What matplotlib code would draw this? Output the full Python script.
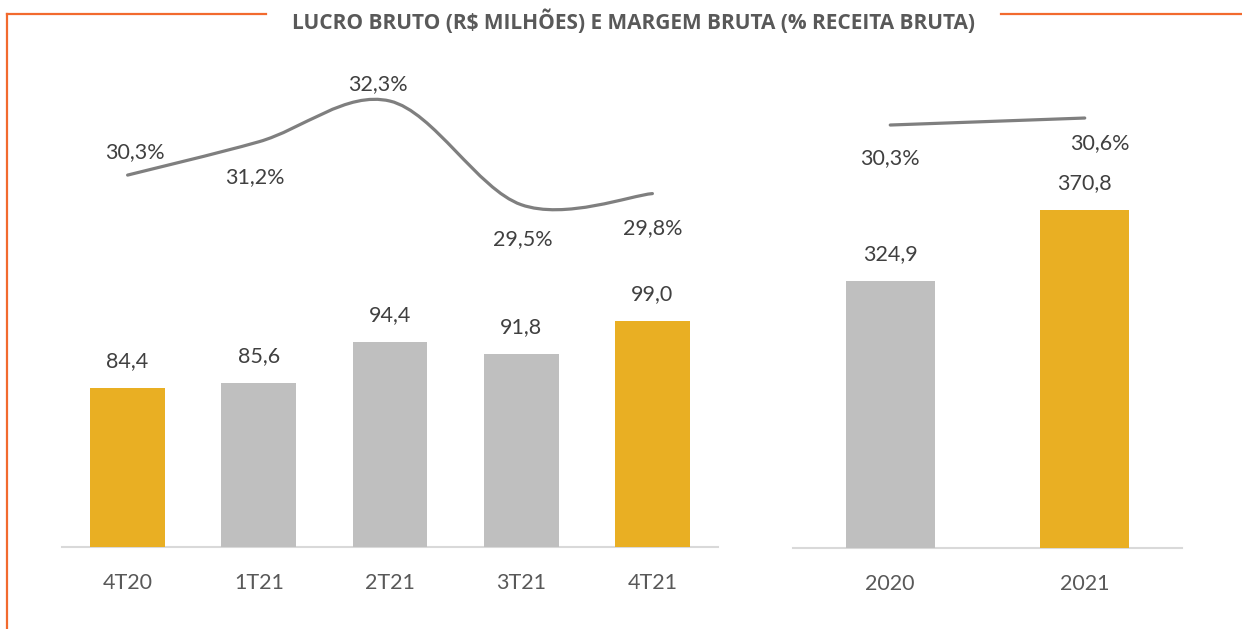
import numpy as np
import matplotlib.pyplot as plt
from matplotlib.path import Path
from matplotlib.patches import PathPatch

# dados
trimestres = ["4T20", "1T21", "2T21", "3T21", "4T21"]
lucro_tri = [84.4, 85.6, 94.4, 91.8, 99.0]
margem_tri = [30.3, 31.2, 32.3, 29.5, 29.8]

anos = ["2020", "2021"]
lucro_ano = [324.9, 370.8]
margem_ano = [30.3, 30.6]

titulo = "LUCRO BRUTO (R$ MILHÕES) E MARGEM BRUTA (% RECEITA BRUTA)"

OURO = "#E9AF23"
CINZA = "#BFBFBF"
LINHA = "#7F7F7F"
LARANJA = "#F26A2E"
TXT = "#404040"
FS = 15.5

plt.rcParams['font.family'] = ['Lato', 'DejaVu Sans']

W, H = 1242, 629
fig = plt.figure(figsize=(W / 100, H / 100), dpi=100)


def px_axes(x0, x1, ytop, ybot):
    return fig.add_axes([x0 / W, 1 - ybot / H, (x1 - x0) / W, (ybot - ytop) / H])


def smooth_line(ax, xs, ys):
    # curva suavizada estilo Excel (Catmull-Rom em coordenadas de tela)
    pts = ax.transData.transform(np.column_stack([xs, ys]))
    verts = [pts[0]]
    codes = [Path.MOVETO]
    n = len(pts)
    for i in range(n - 1):
        p0 = pts[i - 1] if i > 0 else pts[i]
        p1 = pts[i]
        p2 = pts[i + 1]
        p3 = pts[i + 2] if i + 2 < n else pts[i + 1]
        c1 = p1 + (p2 - p0) / 6
        c2 = p2 - (p3 - p1) / 6
        verts += [c1, c2, p2]
        codes += [Path.CURVE4] * 3
    verts = ax.transData.inverted().transform(np.array(verts))
    ax.add_patch(PathPatch(Path(verts, codes), fill=False, edgecolor=LINHA,
                           lw=2.3, capstyle='round', zorder=3))


def base_style(ax):
    for s in ax.spines.values():
        s.set_visible(False)
    ax.set_yticks([])


def fmt(v, pct=False):
    s = f"{v:.1f}".replace(".", ",")
    return s + "%" if pct else s


# painel trimestral
ax1 = px_axes(62, 718, 60, 547)
x1 = np.arange(len(trimestres))
cores1 = [OURO, CINZA, CINZA, CINZA, OURO]
ax1.bar(x1, lucro_tri, width=0.57, color=cores1, zorder=2)
ax1.set_xlim(-0.5, len(trimestres) - 0.5)
ax1.set_ylim(49.8, 155.9)
base_style(ax1)
ax1.axhline(49.8, color="#D9D9D9", lw=1.5, zorder=1, clip_on=False)
ax1.set_xticks(x1)
ax1.set_xticklabels(trimestres, fontsize=FS, color="#595959")
ax1.tick_params(axis='x', length=0, pad=19)
for xi, v in zip(x1, lucro_tri):
    ax1.annotate(fmt(v), (xi, v), xytext=(0, 27), textcoords='offset pixels',
                 ha='center', va='center', fontsize=FS, color=TXT)

ax1b = ax1.twinx()
ax1b.set_ylim(20.25, 33.41)
base_style(ax1b)
smooth_line(ax1b, x1, margem_tri)
offs1 = [(7, 23), (-4, -35), (-12, 17), (2, -34), (0, -35)]
for xi, v, (dx, dy) in zip(x1, margem_tri, offs1):
    ax1b.annotate(fmt(v, True), (xi, v), xytext=(dx, dy), textcoords='offset pixels',
                  ha='center', va='center', fontsize=FS, color=TXT)

# painel anual
ax2 = px_axes(793, 1182, 60, 548)
x2 = np.arange(len(anos))
ax2.bar(x2, lucro_ano, width=0.456, color=[CINZA, OURO], zorder=2)
ax2.set_xlim(-0.5, len(anos) - 0.5)
ax2.set_ylim(152, 467.9)
base_style(ax2)
ax2.axhline(152, color="#D9D9D9", lw=1.5, zorder=1, clip_on=False)
ax2.set_xticks(x2)
ax2.set_xticklabels(anos, fontsize=FS, color="#595959")
ax2.tick_params(axis='x', length=0, pad=19)
for xi, v in zip(x2, lucro_ano):
    ax2.annotate(fmt(v), (xi, v), xytext=(0, 27), textcoords='offset pixels',
                 ha='center', va='center', fontsize=FS, color=TXT)

ax2b = ax2.twinx()
ax2b.set_ylim(12.15, 33.09)
base_style(ax2b)
smooth_line(ax2b, x2, margem_ano)
offs2 = [(0, -33), (15, -25)]
for xi, v, (dx, dy) in zip(x2, margem_ano, offs2):
    ax2b.annotate(fmt(v, True), (xi, v), xytext=(dx, dy), textcoords='offset pixels',
                  ha='center', va='center', fontsize=FS, color=TXT)

# moldura laranja e titulo
fig.add_artist(plt.Line2D([7 / W, 266 / W], [1 - 14 / H] * 2, color=LARANJA, lw=1.6))
fig.add_artist(plt.Line2D([1001 / W, 1], [1 - 14 / H] * 2, color=LARANJA, lw=1.6))
fig.add_artist(plt.Line2D([7 / W, 7 / W], [1 - 14 / H, 0], color=LARANJA, lw=1.6))
fig.text(633 / W, 1 - 22 / H, titulo, ha='center', va='center', fontsize=15,
         fontweight='bold', color="#595959", family=['Open Sans', 'DejaVu Sans'])

fig.savefig("out.png", dpi=100)
